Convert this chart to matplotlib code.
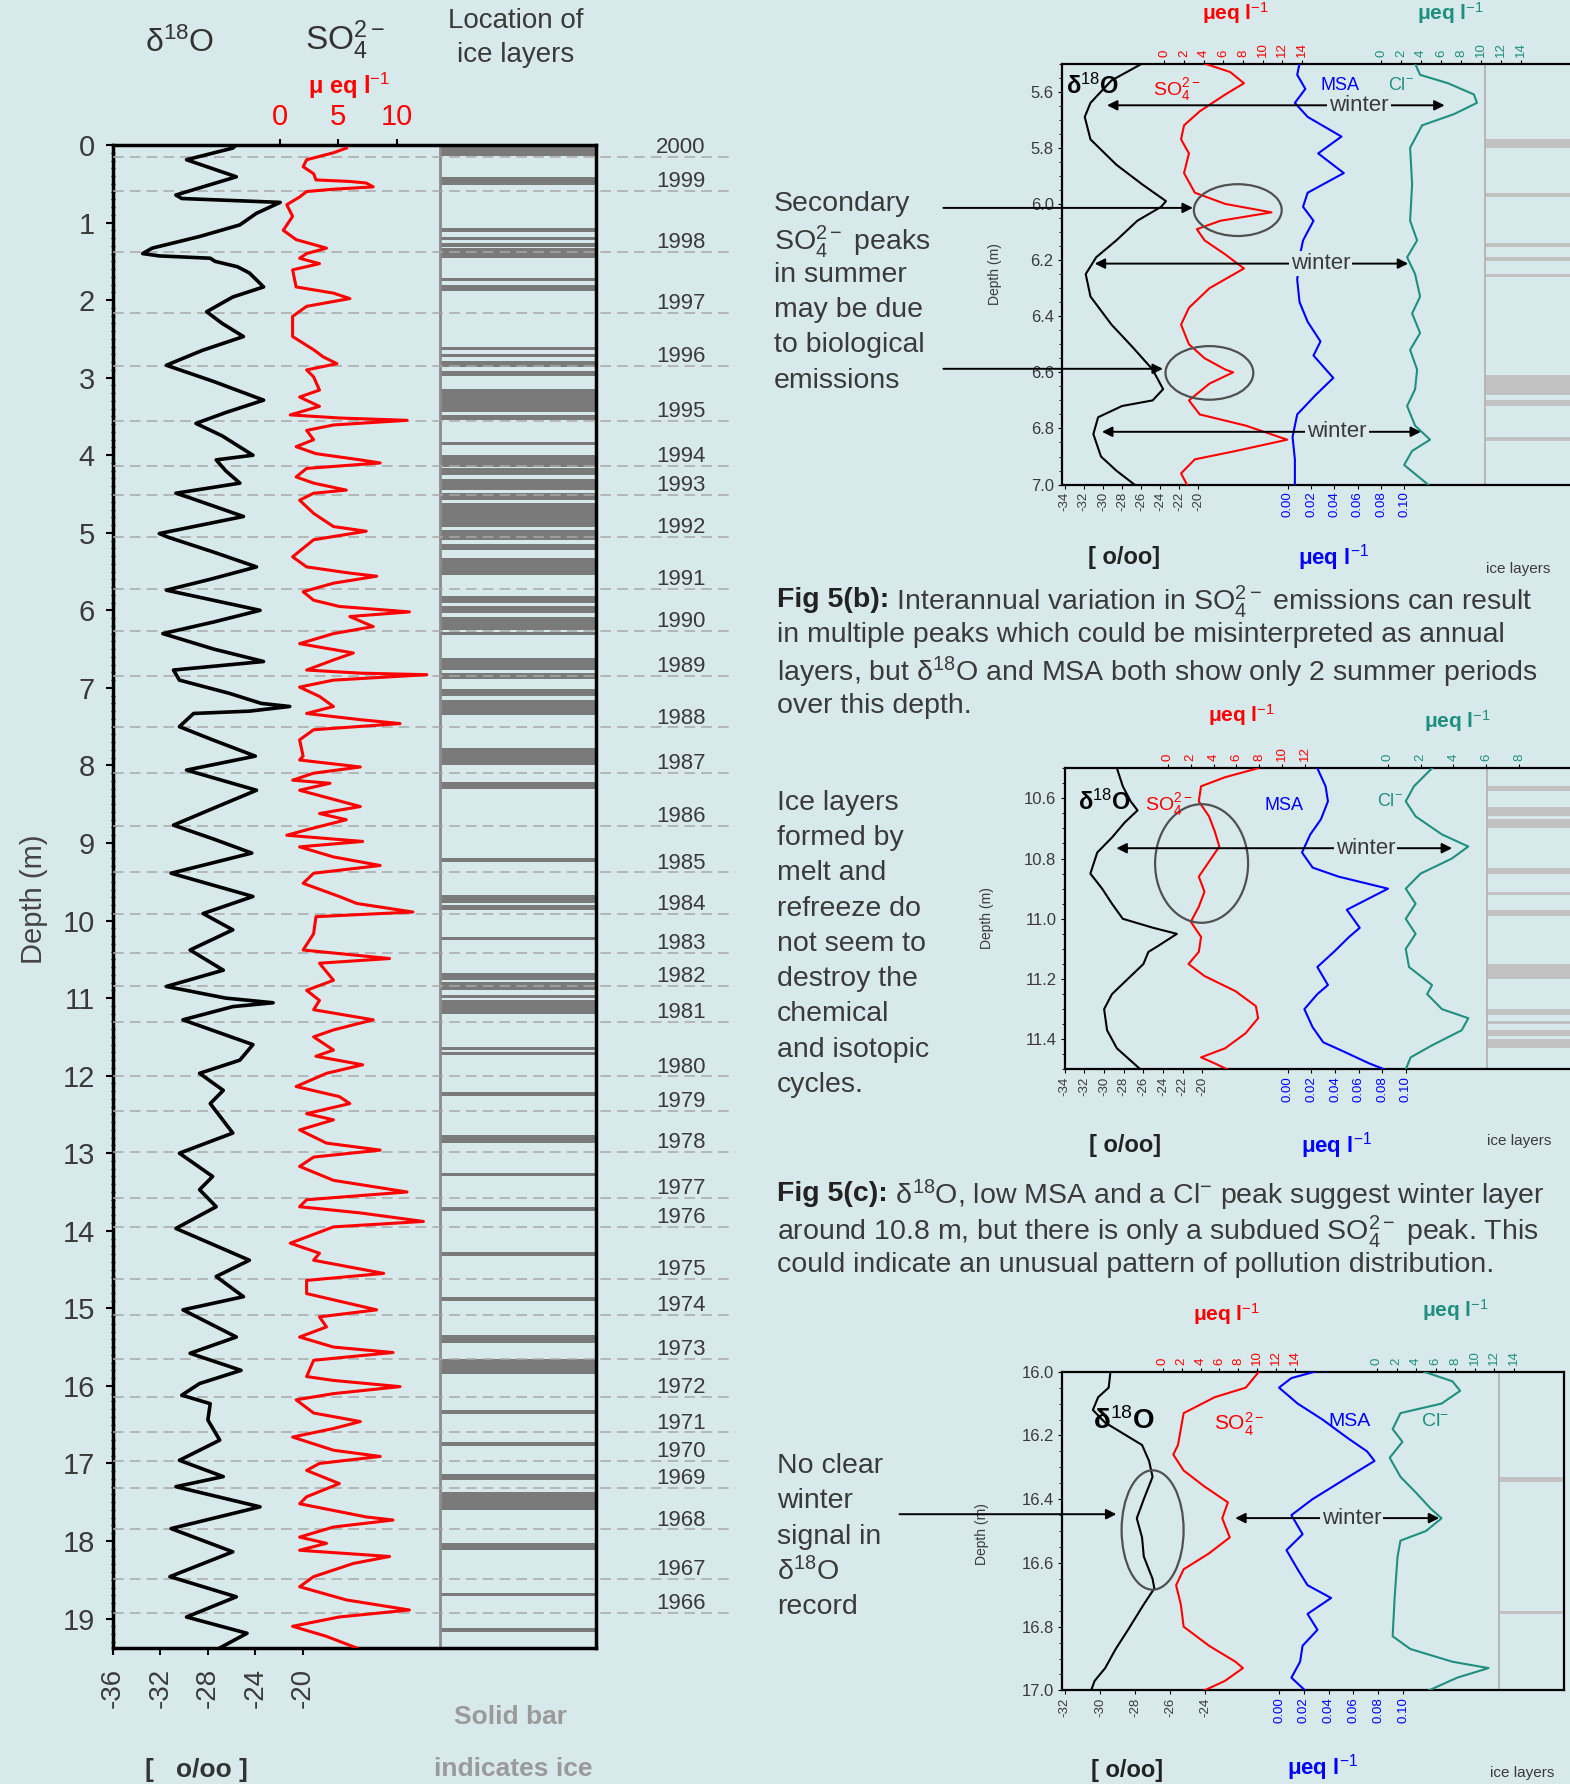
import matplotlib
matplotlib.use("Agg")
import matplotlib.pyplot as plt
from matplotlib.patches import Ellipse
from matplotlib.ticker import FormatStrFormatter
import numpy as np

W, H = 1570, 1784
BG = "#d8e9ec"
TXT = "#3a3a3a"
TEAL = "#1f8f7f"
ICE_DARK = "#7a7a7a"
ICE_LIGHT = "#c2c2c2"

plt.rcParams["font.family"] = ["Liberation Sans", "DejaVu Sans"]
plt.rcParams["mathtext.fontset"] = "custom"
plt.rcParams["mathtext.rm"] = "Liberation Sans"
plt.rcParams["mathtext.it"] = "Liberation Sans:italic"
plt.rcParams["mathtext.bf"] = "Liberation Sans:bold"
plt.rcParams["axes.unicode_minus"] = False

# ---- main core record (depth in m) ----
d18o_depth = [
    0.00, 0.04, 0.19, 0.41, 0.645, 0.69, 0.74, 0.88, 1.03, 1.18,
    1.33, 1.40, 1.43, 1.46, 1.50, 1.57, 1.65, 1.83, 1.96, 2.15,
    2.30, 2.47, 2.65, 2.84, 3.05, 3.29, 3.45, 3.59, 3.75, 4.00,
    4.06, 4.20, 4.36, 4.49, 4.55, 4.79, 5.01, 5.06, 5.25, 5.44,
    5.60, 5.74, 6.00, 6.15, 6.30, 6.50, 6.66, 6.77, 6.90, 7.07,
    7.20, 7.24, 7.30, 7.33, 7.50, 7.67, 7.88, 8.06, 8.32, 8.55,
    8.77, 8.95, 9.13, 9.39, 9.69, 9.91, 10.12, 10.38, 10.64, 10.85,
    11.00, 11.06, 11.11, 11.28, 11.60, 11.80, 11.97, 12.19, 12.36, 12.74,
    13.00, 13.30, 13.47, 13.69, 13.97, 14.38, 14.59, 14.85, 15.02, 15.37,
    15.58, 15.80, 15.97, 16.12, 16.23, 16.44, 16.70, 16.96, 17.17, 17.30,
    17.56, 17.84, 18.14, 18.46, 18.72, 18.98, 19.19, 19.38]
d18o_val = [
    -25.6, -25.9, -29.8, -25.6, -30.7, -30.2, -21.9, -23.9, -25.3, -28.7,
    -32.7, -33.5, -32.1, -27.8, -27.4, -25.5, -24.5, -23.3, -25.9, -28.1,
    -26.8, -25.0, -28.5, -31.5, -27.5, -23.3, -26.5, -29.0, -26.8, -24.2,
    -27.3, -26.5, -25.3, -30.7, -29.5, -25.0, -32.1, -31.3, -27.5, -23.9,
    -27.8, -31.5, -23.6, -27.5, -31.8, -27.5, -23.3, -30.9, -30.4, -26.2,
    -23.5, -21.1, -24.5, -29.2, -30.4, -27.6, -24.0, -29.8, -23.9, -27.5,
    -30.9, -27.5, -24.3, -31.1, -24.2, -28.4, -25.9, -29.5, -26.7, -31.5,
    -26.5, -22.5, -25.9, -30.1, -24.2, -25.3, -28.7, -26.7, -27.8, -25.9,
    -30.4, -27.6, -28.7, -27.3, -30.7, -24.5, -27.3, -25.0, -30.1, -25.6,
    -29.5, -25.2, -28.7, -30.2, -27.8, -28.0, -27.0, -30.4, -26.7, -30.7,
    -23.6, -31.1, -25.9, -31.2, -25.6, -29.8, -24.7, -27.0]

so4_depth = [
    0.04, 0.10, 0.19, 0.28, 0.37, 0.45, 0.47, 0.49, 0.54, 0.57,
    0.60, 0.67, 0.77, 0.92, 1.10, 1.22, 1.33, 1.40, 1.46, 1.53,
    1.61, 1.83, 1.91, 1.98, 2.08, 2.21, 2.47, 2.64, 2.73, 2.82,
    2.90, 2.99, 3.16, 3.25, 3.37, 3.48, 3.52, 3.55, 3.61, 3.68,
    3.80, 3.89, 3.98, 4.06, 4.10, 4.17, 4.28, 4.36, 4.45, 4.49,
    4.58, 4.75, 4.92, 4.98, 5.09, 5.31, 5.44, 5.52, 5.56, 5.65,
    5.76, 5.87, 5.95, 6.02, 6.08, 6.21, 6.30, 6.43, 6.55, 6.64,
    6.77, 6.81, 6.83, 6.90, 6.99, 7.11, 7.24, 7.33, 7.41, 7.46,
    7.54, 7.67, 7.88, 7.93, 8.02, 8.10, 8.19, 8.23, 8.32, 8.53,
    8.62, 8.70, 8.83, 8.90, 8.98, 9.05, 9.18, 9.29, 9.39, 9.52,
    9.69, 9.78, 9.89, 9.95, 10.17, 10.38, 10.49, 10.55, 10.77, 10.90,
    11.03, 11.15, 11.28, 11.41, 11.50, 11.67, 11.75, 11.86, 11.97, 12.14,
    12.27, 12.36, 12.49, 12.57, 12.70, 12.87, 12.96, 13.05, 13.17, 13.35,
    13.50, 13.60, 13.69, 13.77, 13.88, 13.95, 14.16, 14.29, 14.38, 14.55,
    14.64, 14.81, 15.02, 15.11, 15.24, 15.37, 15.50, 15.57, 15.67, 15.88,
    15.93, 16.01, 16.10, 16.18, 16.35, 16.46, 16.55, 16.66, 16.83, 16.91,
    17.00, 17.09, 17.26, 17.43, 17.52, 17.69, 17.73, 17.82, 17.95, 18.03,
    18.12, 18.20, 18.29, 18.46, 18.59, 18.76, 18.89, 18.98, 19.10, 19.23,
    19.38]
so4_val = [
    5.7, 4.6, 2.3, 2.0, 2.9, 3.1, 6.0, 7.4, 8.0, 4.6,
    2.3, 1.7, 0.6, 1.1, 0.3, 1.4, 4.0, 2.3, 1.7, 3.4,
    1.1, 1.4, 4.6, 6.0, 2.3, 1.1, 1.1, 2.9, 3.7, 4.9,
    2.3, 2.9, 3.4, 1.7, 3.4, 0.9, 5.1, 10.9, 4.6, 2.3,
    2.9, 1.4, 3.1, 6.9, 8.6, 2.3, 1.4, 2.9, 5.7, 2.9,
    1.7, 2.9, 4.6, 7.4, 2.9, 1.1, 2.3, 6.0, 8.3, 4.6,
    2.0, 2.9, 5.1, 11.1, 6.0, 8.0, 4.6, 1.7, 6.3, 4.6,
    2.3, 6.9, 12.6, 4.6, 1.7, 3.4, 4.6, 2.3, 6.9, 10.3,
    2.9, 1.7, 2.0, 1.7, 6.9, 2.9, 1.1, 4.3, 1.7, 6.9,
    3.4, 5.7, 2.3, 0.6, 7.1, 1.7, 4.6, 8.6, 2.9, 2.0,
    5.1, 6.6, 11.4, 3.1, 2.9, 2.0, 9.4, 3.4, 4.6, 2.3,
    3.4, 2.9, 8.0, 4.6, 2.9, 4.6, 3.1, 7.1, 4.0, 1.4,
    5.1, 6.0, 2.3, 4.6, 1.7, 4.0, 8.6, 2.9, 1.7, 4.6,
    10.9, 2.3, 1.7, 6.9, 12.3, 4.6, 0.9, 3.4, 2.9, 8.9,
    2.3, 2.3, 8.3, 3.4, 4.0, 1.7, 4.6, 9.7, 2.9, 2.3,
    4.6, 10.3, 4.6, 1.4, 2.9, 6.9, 4.6, 1.1, 4.6, 8.6,
    3.4, 2.3, 5.1, 2.3, 1.7, 7.4, 9.7, 4.6, 1.7, 4.0,
    1.7, 9.4, 6.3, 2.9, 1.7, 5.7, 11.1, 5.1, 1.1, 4.0,
    6.6]

ice_main = [
    (0.00, 0.14), (0.41, 0.52), (1.07, 1.12), (1.18, 1.22), (1.27, 1.31),
    (1.33, 1.46), (1.72, 1.76), (1.81, 1.88), (2.60, 2.64), (2.69, 2.73),
    (2.79, 2.86), (2.92, 2.98), (3.14, 3.44), (3.48, 3.55), (3.83, 3.87),
    (4.00, 4.15), (4.17, 4.26), (4.31, 4.45), (4.49, 4.58), (4.62, 4.92),
    (4.96, 5.09), (5.14, 5.22), (5.33, 5.54), (5.82, 5.91), (5.95, 6.04),
    (6.08, 6.25), (6.28, 6.32), (6.62, 6.77), (6.81, 6.88), (7.01, 7.11),
    (7.16, 7.35), (7.78, 7.99), (8.21, 8.30), (9.20, 9.24), (9.67, 9.78),
    (9.80, 9.86), (10.21, 10.25), (10.68, 10.77), (10.79, 10.89), (10.96, 11.00),
    (11.03, 11.20), (11.63, 11.67), (11.69, 11.73), (12.21, 12.26), (12.77, 12.87),
    (13.25, 13.30), (13.69, 13.75), (14.28, 14.33), (14.85, 14.91), (15.35, 15.45),
    (15.65, 15.85), (16.31, 16.36), (16.72, 16.78), (17.13, 17.22), (17.37, 17.60),
    (18.02, 18.12), (18.67, 18.71), (19.12, 19.18)]

years = [2000, 1999, 1998, 1997, 1996, 1995, 1994, 1993, 1992, 1991,
         1990, 1989, 1988, 1987, 1986, 1985, 1984, 1983, 1982, 1981,
         1980, 1979, 1978, 1977, 1976, 1975, 1974, 1973, 1972, 1971,
         1970, 1969, 1968, 1967, 1966]
year_depth = [0.15, 0.59, 1.38, 2.17, 2.85, 3.56, 4.14, 4.51, 5.05, 5.72,
              6.27, 6.85, 7.51, 8.10, 8.78, 9.38, 9.91, 10.42, 10.84, 11.31,
              12.01, 12.45, 12.98, 13.58, 13.95, 14.62, 15.09, 15.65, 16.14, 16.60,
              16.97, 17.32, 17.85, 18.49, 18.93]

# ---- Fig 5(a) detail, 5.5-7.0 m ----
a_d18o_z = [5.50, 5.56, 5.64, 5.69, 5.77, 5.86, 5.93, 5.99, 6.01, 6.06, 6.13, 6.19, 6.25,
            6.33, 6.43, 6.51, 6.59, 6.66, 6.70, 6.72, 6.76, 6.82, 6.90, 6.95, 7.00]
a_d18o = [-25.9, -29.1, -31.3, -31.9, -31.3, -28.6, -25.9, -23.4, -23.9, -26.4, -28.6, -30.7, -31.8,
          -31.3, -29.1, -26.9, -24.8, -23.7, -24.8, -28.0, -30.5, -31.0, -30.2, -28.6, -26.7]
a_so4_z = [5.50, 5.53, 5.57, 5.61, 5.67, 5.72, 5.77, 5.82, 5.89, 5.96, 6.00, 6.03, 6.06, 6.09, 6.13,
           6.18, 6.23, 6.30, 6.37, 6.43, 6.50, 6.55, 6.59, 6.60, 6.64, 6.70, 6.75, 6.79, 6.84,
           6.88, 6.91, 6.96, 7.00]
a_so4 = [4.1, 6.7, 8.1, 6.2, 3.6, 2.0, 1.7, 2.5, 2.0, 3.1, 6.2, 10.9, 5.7, 3.3, 4.1,
         6.2, 8.1, 4.6, 2.5, 1.7, 2.5, 4.1, 6.2, 7.0, 4.6, 2.5, 3.6, 8.3, 12.5,
         7.3, 3.1, 1.7, 2.3]
a_msa_z = [5.50, 5.54, 5.59, 5.64, 5.69, 5.76, 5.82, 5.89, 5.96, 6.01, 6.06, 6.13, 6.19, 6.27,
           6.35, 6.42, 6.49, 6.54, 6.62, 6.68, 6.75, 6.83, 6.91, 7.00]
a_msa = [0.010, 0.008, 0.015, 0.006, 0.017, 0.046, 0.026, 0.048, 0.017, 0.013, 0.022, 0.013, 0.010, 0.008,
         0.010, 0.017, 0.028, 0.022, 0.039, 0.024, 0.008, 0.004, 0.006, 0.006]
a_cl_z = [5.50, 5.54, 5.57, 5.61, 5.64, 5.68, 5.72, 5.80, 5.93, 6.06, 6.13, 6.19, 6.25, 6.33,
          6.39, 6.46, 6.52, 6.59, 6.66, 6.72, 6.79, 6.84, 6.88, 6.93, 7.00]
a_cl = [3.4, 3.9, 6.7, 9.3, 9.6, 7.3, 4.1, 2.9, 3.1, 2.9, 3.6, 2.6, 3.4, 3.9,
        3.1, 3.9, 2.9, 3.6, 3.4, 2.6, 3.4, 4.9, 3.1, 2.3, 4.7]
a_ice = [(5.77, 5.80), (5.96, 5.975), (6.14, 6.155), (6.19, 6.205), (6.25, 6.26),
         (6.61, 6.68), (6.70, 6.72), (6.83, 6.845)]

# ---- Fig 5(b) detail, 10.5-11.5 m ----
b_d18o_z = [10.50, 10.56, 10.61, 10.64, 10.68, 10.73, 10.78, 10.85, 10.90, 10.95, 11.00,
            11.03, 11.05, 11.09, 11.11, 11.15, 11.20, 11.25, 11.30, 11.37, 11.43, 11.50]
b_d18o = [-28.7, -28.1, -27.3, -26.6, -27.9, -29.2, -30.7, -31.4, -30.2, -29.2, -28.1,
          -25.0, -22.6, -24.5, -25.5, -26.0, -27.6, -29.2, -30.0, -29.7, -28.7, -26.3]
b_so4_z = [10.50, 10.53, 10.56, 10.61, 10.66, 10.71, 10.76, 10.81, 10.86, 10.91, 10.96, 11.01,
           11.06, 11.11, 11.15, 11.19, 11.24, 11.29, 11.33, 11.38, 11.43, 11.46, 11.48, 11.50]
b_so4 = [7.9, 5.0, 2.9, 2.7, 3.6, 4.1, 4.5, 3.6, 2.7, 3.2, 2.7, 2.0,
         2.9, 2.7, 1.8, 3.2, 5.9, 7.7, 7.9, 6.8, 5.0, 2.9, 4.1, 5.2]
b_msa_z = [10.50, 10.56, 10.61, 10.67, 10.72, 10.78, 10.83, 10.86, 10.90, 10.94, 10.97, 11.03,
           11.06, 11.11, 11.16, 11.22, 11.25, 11.30, 11.36, 11.41, 11.44, 11.48, 11.50]
b_msa = [0.025, 0.032, 0.034, 0.028, 0.019, 0.012, 0.021, 0.043, 0.085, 0.065, 0.050, 0.061,
         0.052, 0.039, 0.025, 0.034, 0.025, 0.014, 0.021, 0.030, 0.047, 0.069, 0.082]
b_cl_z = [10.50, 10.56, 10.61, 10.66, 10.72, 10.76, 10.80, 10.85, 10.90, 10.95, 11.00,
          11.05, 11.10, 11.16, 11.22, 11.25, 11.30, 11.33, 11.37, 11.42, 11.46, 11.50]
b_cl = [2.7, 1.6, 1.1, 1.7, 3.3, 4.9, 3.9, 2.0, 1.1, 1.7, 1.1,
        1.7, 1.1, 1.3, 2.7, 2.4, 3.3, 4.9, 4.5, 2.7, 1.4, 1.1]
b_ice = [(10.56, 10.575), (10.63, 10.66), (10.67, 10.70), (10.83, 10.85), (10.91, 10.92),
         (10.97, 10.99), (11.15, 11.20), (11.30, 11.32), (11.34, 11.35), (11.37, 11.39),
         (11.40, 11.43)]

# ---- Fig 5(c) detail, 16.0-17.0 m ----
c_d18o_z = [16.00, 16.05, 16.08, 16.12, 16.16, 16.20, 16.23, 16.28, 16.33, 16.40, 16.46,
            16.52, 16.58, 16.65, 16.68, 16.73, 16.81, 16.87, 16.93, 16.97, 17.00]
c_d18o = [-29.4, -29.5, -30.1, -30.4, -29.7, -28.5, -27.6, -27.2, -27.0, -27.5, -27.9,
          -27.6, -27.5, -27.0, -26.9, -27.5, -28.4, -29.1, -29.7, -30.3, -30.5]
c_so4_z = [16.00, 16.05, 16.08, 16.13, 16.18, 16.23, 16.26, 16.31, 16.36, 16.41, 16.46,
           16.52, 16.57, 16.62, 16.67, 16.73, 16.80, 16.86, 16.91, 16.93, 16.97, 17.00]
c_so4 = [10.2, 8.8, 5.5, 2.2, 1.9, 1.6, 1.1, 2.2, 4.4, 6.9, 6.3,
         7.1, 4.9, 2.2, 1.4, 1.9, 2.2, 4.9, 7.7, 8.5, 6.6, 4.4]
c_msa_z = [16.00, 16.02, 16.05, 16.10, 16.15, 16.21, 16.25, 16.28, 16.33, 16.40, 16.45,
           16.51, 16.56, 16.62, 16.67, 16.71, 16.76, 16.81, 16.86, 16.91, 16.96, 17.00]
c_msa = [0.029, 0.010, 0.000, 0.015, 0.035, 0.056, 0.071, 0.077, 0.056, 0.027, 0.010,
         0.019, 0.006, 0.015, 0.023, 0.042, 0.023, 0.031, 0.019, 0.017, 0.010, 0.021]
c_cl_z = [16.00, 16.03, 16.06, 16.10, 16.13, 16.18, 16.22, 16.27, 16.33, 16.38, 16.43,
          16.46, 16.50, 16.53, 16.58, 16.71, 16.83, 16.87, 16.91, 16.93, 16.96, 17.00]
c_cl = [4.8, 7.7, 8.5, 6.6, 2.4, 1.6, 2.6, 1.3, 2.4, 4.0, 5.5,
        6.6, 5.0, 2.4, 2.1, 1.8, 1.6, 3.4, 7.7, 11.4, 8.2, 5.3]
c_ice = [(16.33, 16.345), (16.75, 16.76)]

fig = plt.figure(figsize=(W / 100, H / 100), dpi=100, facecolor=BG)


def frect(l, t, r, b):
    """pixel box (top-left origin) -> figure fraction rect"""
    return [l / W, 1 - b / H, (r - l) / W, (b - t) / H]


# ================= main column =================
ax = fig.add_axes(frect(113, 145, 596, 1648))
ax.set_facecolor("none")
ax.set_xlim(-36, 4.73)
ax.set_ylim(19.38, 0)
ICE_X = 0.677
for top, bot in ice_main:
    ax.axhspan(top, bot, xmin=ICE_X, xmax=1, color=ICE_DARK, lw=0, zorder=1)
ax.plot([ICE_X, ICE_X], [0, 1], transform=ax.transAxes, color="#8c8c8c", lw=2, zorder=2)
yt = ax.get_yaxis_transform()
for yr, z in zip(years, year_depth):
    ax.plot([0, 1.288], [z, z], transform=yt, color="#a8a8a8", lw=1.1,
            ls=(0, (7, 4)), clip_on=False, zorder=3)
    ax.text(1.176, z - 0.12, str(yr), transform=yt, ha="center", va="center",
            fontsize=16, color=TXT)
ax.plot(d18o_val, d18o_depth, color="black", lw=2.6, zorder=5)

ax.set_yticks(range(20))
ax.set_yticks(np.arange(0, 19.4, 0.1), minor=True)
ax.tick_params(axis="y", which="major", labelsize=21, labelcolor=TXT, length=5, width=1.5, pad=8)
ax.tick_params(axis="y", which="minor", length=3, width=1, direction="inout")
ax.set_xticks([-36, -32, -28, -24, -20])
ax.tick_params(axis="x", labelsize=20, labelcolor=TXT, rotation=90, length=5, width=1.5, pad=9)
for sp in ax.spines.values():
    sp.set_linewidth(2.5)

axs = ax.twiny()
axs.set_xlim(-14.28, 27.08)
axs.plot(so4_val, so4_depth, color="red", lw=2.2)
axs.set_xticks([0, 5, 10])
axs.tick_params(axis="x", labelsize=21, labelcolor="red", length=4, width=1.5, pad=6)
for sp in axs.spines.values():
    sp.set_visible(False)


# ================= detail panels =================
def twin(host, lim, ticks, color, series, top=True, fmt=None):
    t = host.twiny()
    t.set_xlim(*lim)
    t.set_xticks(ticks)
    if fmt:
        t.xaxis.set_major_formatter(FormatStrFormatter(fmt))
    t.tick_params(axis="x", top=top, labeltop=top, bottom=not top, labelbottom=not top,
                  labelcolor=color, labelsize=9.5, rotation=90, length=3, pad=2)
    for sp in t.spines.values():
        sp.set_visible(False)
    t.plot(series[1], series[0], color=color, lw=1.5)
    return t


def panel(box, zlim, zticks, d_lim, d_ticks, s_lim, s_ticks, m_lim, c_lim, c_ticks,
          ice_x, ice, d, s, m, c):
    p = fig.add_axes(frect(*box))
    p.set_facecolor("none")
    p.set_xlim(*d_lim)
    p.set_ylim(zlim[1], zlim[0])
    for top, bot in ice:
        p.axhspan(top, bot, xmin=ice_x, xmax=1, color=ICE_LIGHT, lw=0)
    p.plot([ice_x, ice_x], [0, 1], transform=p.transAxes, color="#b4b4b4", lw=1.3)
    p.plot(d[1], d[0], color="black", lw=1.5)
    p.set_yticks(zticks)
    p.yaxis.set_major_formatter(FormatStrFormatter("%.1f"))
    p.set_yticks(np.arange(zlim[0], zlim[1] + 0.001, 0.05), minor=True)
    p.tick_params(axis="y", which="major", labelsize=12, labelcolor=TXT, length=3, pad=3)
    p.tick_params(axis="y", which="minor", length=2)
    p.set_xticks(d_ticks)
    p.tick_params(axis="x", labelsize=9.5, labelcolor=TXT, rotation=90, length=3, pad=2)
    for sp in p.spines.values():
        sp.set_linewidth(1.6)
    twin(p, s_lim, s_ticks, "red", s)
    twin(p, m_lim, [0, 0.02, 0.04, 0.06, 0.08, 0.10], "blue", m, top=False, fmt="%.2f")
    twin(p, c_lim, c_ticks, TEAL, c)
    return p


panel((1062, 63.6, 1572, 484.6), (5.5, 7.0), [5.6, 5.8, 6.0, 6.2, 6.4, 6.6, 6.8, 7.0],
      (-34.28, 19.08), list(range(-34, -19, 2)), (-10.42, 41.49), list(range(0, 15, 2)),
      (-0.194, 0.244), (-32.0, 19.13), list(range(0, 15, 2)), 0.829, a_ice,
      (a_d18o_z, a_d18o), (a_so4_z, a_so4), (a_msa_z, a_msa), (a_cl_z, a_cl))
panel((1064.8, 768.2, 1572, 1069.4), (10.5, 11.5), [10.6, 10.8, 11.0, 11.2, 11.4],
      (-33.89, 17.6), list(range(-34, -19, 2)), (-9.04, 35.4), list(range(0, 13, 2)),
      (-0.1894, 0.2412), (-19.61, 11.2), [0, 2, 4, 6, 8], 0.833, b_ice,
      (b_d18o_z, b_d18o), (b_so4_z, b_so4), (b_msa_z, b_msa), (b_cl_z, b_cl))
panel((1062, 1371.7, 1564, 1690.4), (16.0, 17.0), [16.0, 16.2, 16.4, 16.6, 16.8, 17.0],
      (-32.16, -3.56), [-32, -30, -28, -26, -24], (-10.72, 42.6), list(range(0, 15, 2)),
      (-0.175, 0.2298), (-32.19, 19.11), list(range(0, 15, 2)), 0.8697, c_ice,
      (c_d18o_z, c_d18o), (c_so4_z, c_so4), (c_msa_z, c_msa), (c_cl_z, c_cl))

# ================= overlay for texts and annotations (pixel coords) =================
over = fig.add_axes([0, 0, 1, 1], zorder=10)
over.set_xlim(0, W)
over.set_ylim(H, 0)
over.axis("off")
r = fig.canvas.get_renderer()


def txt(x, y, s, **kw):
    kw.setdefault("color", TXT)
    kw.setdefault("va", "center_baseline")
    return over.text(x, y, s, **kw)


def bold_lead(x, y, lead, rest, size=20.5):
    t = txt(x, y, lead, fontsize=size, fontweight="bold", color="#222222")
    w = t.get_window_extent(r).width
    txt(x + w, y, rest, fontsize=size)


def winter(y, x0, x1, xt, size=16):
    over.annotate("", xy=(x1, y), xytext=(x0, y),
                  arrowprops=dict(arrowstyle="<|-|>", color="black", lw=1.4,
                                  mutation_scale=15, shrinkA=0, shrinkB=0))
    over.text(xt, y, "winter", ha="center", va="center", fontsize=size, color=TXT,
              zorder=5, bbox=dict(fc=BG, ec="none", pad=1.5))


def pointer(y, x0, x1):
    over.annotate("", xy=(x1, y), xytext=(x0, y),
                  arrowprops=dict(arrowstyle="-|>", color="black", lw=1.4,
                                  mutation_scale=15, shrinkA=0, shrinkB=0))


def ring(cx, cy, w, h):
    over.add_patch(Ellipse((cx, cy), w, h, fill=False, ec="#505050", lw=1.6))


CAP = 20.5
DESC = 20.5

# main column headers
txt(180, 40, "δ$^{18}$O", fontsize=23, ha="center", color="#333333")
txt(345, 34, "SO$_4^{2-}$", fontsize=24, ha="center", color="#333333")
txt(516, 18, "Location of", fontsize=20, ha="center")
txt(516, 52, "ice layers", fontsize=20, ha="center")
txt(349, 82, "μ eq l$^{-1}$", fontsize=17, ha="center", color="red", fontweight="bold")
txt(34, 899, "Depth (m)", fontsize=21, ha="center", va="center", rotation=90, color="#444444")
txt(196, 1767, "[   o/oo ]", fontsize=19, ha="center", fontweight="bold", color="#333333")
txt(511, 1714, "Solid bar", fontsize=19, ha="center", fontweight="bold", color="#9a9a9a")
txt(513, 1766, "indicates ice", fontsize=19, ha="center", fontweight="bold", color="#9a9a9a")

# panel (a)
txt(1066, 84, "δ$^{18}$O", fontsize=17, fontweight="bold", color="black")
txt(1153, 86, "SO$_4^{2-}$", fontsize=14, color="red")
txt(1320, 84, "MSA", fontsize=13, color="blue")
txt(1388, 84, "Cl$^{-}$", fontsize=13, color=TEAL)
txt(995, 274, "Depth (m)", fontsize=10, ha="center", va="center", rotation=90)
txt(1124, 555, "[ o/oo]", fontsize=17, ha="center", fontweight="bold", color="#222222")
txt(1333, 553, "μeq l$^{-1}$", fontsize=16, ha="center", fontweight="bold", color="blue")
txt(1518, 567, "ice layers", fontsize=11, ha="center")
txt(1235, 10, "μeq l$^{-1}$", fontsize=15, ha="center", fontweight="bold", color="red")
txt(1450, 10, "μeq l$^{-1}$", fontsize=15, ha="center", fontweight="bold", color=TEAL)
winter(105.3, 1107, 1444.6, 1359)
winter(263.6, 1094.7, 1408.2, 1320.5)
winter(431.8, 1102, 1421, 1337)
ring(1237.8, 210.1, 87.8, 51.8)
ring(1209.4, 372.9, 87.8, 53.6)
pointer(207.9, 943.4, 1192.9)
pointer(368.8, 943.4, 1162.9)
for y, line in zip([201, 236.6, 272, 307, 342.5, 377.7],
                   ["Secondary", "SO$_4^{2-}$ peaks", "in summer", "may be due",
                    "to biological", "emissions"]):
    txt(774, y, line, fontsize=DESC)

# caption (b)
bold_lead(777, 597, "Fig 5(b):", " Interannual variation in SO$_4^{2-}$ emissions can result")
txt(777, 632.5, "in multiple peaks which could be misinterpreted as annual", fontsize=CAP)
txt(777, 668, "layers, but δ$^{18}$O and MSA both show only 2 summer periods", fontsize=CAP)
txt(777, 703, "over this depth.", fontsize=CAP)

# panel (b)
txt(1078, 800, "δ$^{18}$O", fontsize=17, fontweight="bold", color="black")
txt(1145, 801, "SO$_4^{2-}$", fontsize=14, color="red")
txt(1264, 804, "MSA", fontsize=13, color="blue")
txt(1377, 800, "Cl$^{-}$", fontsize=13, color=TEAL)
txt(987, 918, "Depth (m)", fontsize=10, ha="center", va="center", rotation=90)
txt(1125, 1143, "[ o/oo]", fontsize=17, ha="center", fontweight="bold", color="#222222")
txt(1336, 1141, "μeq l$^{-1}$", fontsize=16, ha="center", fontweight="bold", color="blue")
txt(1519, 1139, "ice layers", fontsize=11, ha="center")
txt(1241, 712, "μeq l$^{-1}$", fontsize=15, ha="center", fontweight="bold", color="red")
txt(1457, 718, "μeq l$^{-1}$", fontsize=15, ha="center", fontweight="bold", color=TEAL)
winter(848.2, 1116.4, 1452.1, 1365.6)
ring(1201.6, 863.5, 93, 118.6)
for y, line in zip([800, 835, 870, 905.6, 941, 976, 1011, 1047, 1082],
                   ["Ice layers", "formed by", "melt and", "refreeze do", "not seem to",
                    "destroy the", "chemical", "and isotopic", "cycles."]):
    txt(777, y, line, fontsize=DESC)

# caption (c)
bold_lead(777, 1191, "Fig 5(c):", " δ$^{18}$O, low MSA and a Cl$^{-}$ peak suggest winter layer")
txt(777, 1226.4, "around 10.8 m, but there is only a subdued SO$_4^{2-}$ peak. This", fontsize=CAP)
txt(777, 1261.7, "could indicate an unusual pattern of pollution distribution.", fontsize=CAP)

# panel (c)
txt(1093, 1418, "δ$^{18}$O", fontsize=20, fontweight="bold", color="black")
txt(1214, 1420, "SO$_4^{2-}$", fontsize=15, color="red")
txt(1328, 1420, "MSA", fontsize=14, color="blue")
txt(1421, 1420, "Cl$^{-}$", fontsize=14, color=TEAL)
txt(982, 1534, "Depth (m)", fontsize=10, ha="center", va="center", rotation=90)
txt(1127, 1768, "[ o/oo]", fontsize=17, ha="center", fontweight="bold", color="#222222")
txt(1322, 1763, "μeq l$^{-1}$", fontsize=16, ha="center", fontweight="bold", color="blue")
txt(1522, 1772, "ice layers", fontsize=11, ha="center")
txt(1226, 1311, "μeq l$^{-1}$", fontsize=15, ha="center", fontweight="bold", color="red")
txt(1455, 1307, "μeq l$^{-1}$", fontsize=15, ha="center", fontweight="bold", color=TEAL)
winter(1518.1, 1235.2, 1439.2, 1351.5)
ring(1152.6, 1530, 62, 119.4)
pointer(1514.2, 899.5, 1116.4)
for y, line in zip([1463, 1498, 1534, 1569, 1604],
                   ["No clear", "winter", "signal in", "δ$^{18}$O", "record"]):
    txt(777, y, line, fontsize=DESC)

fig.savefig("out.png", dpi=100, facecolor=BG)
